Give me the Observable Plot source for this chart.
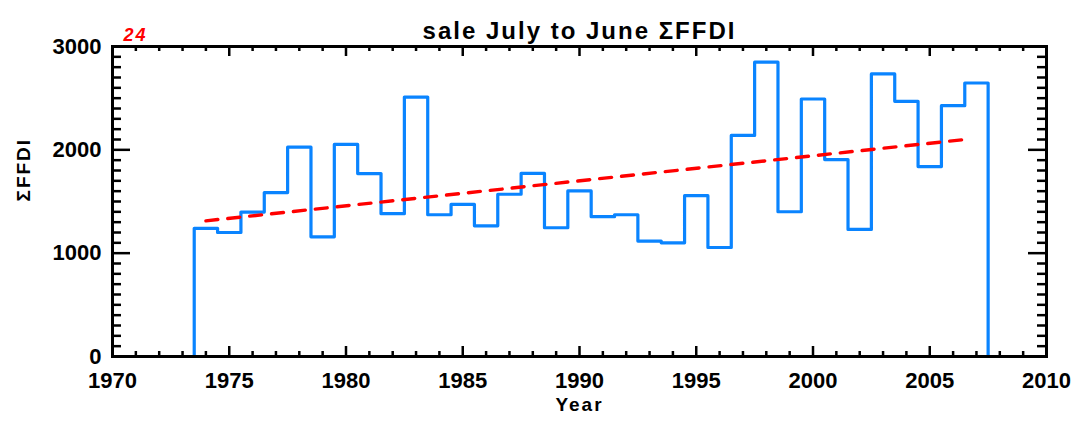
<!DOCTYPE html>
<html>
<head>
<meta charset="utf-8">
<script src="https://cdn.jsdelivr.net/npm/d3@7"></script>
<script src="https://cdn.jsdelivr.net/npm/@observablehq/plot@0.6"></script>
<style>
  html, body { margin: 0; padding: 0; background: #fff; }
  #chart { width: 1073px; height: 421px; }
  #chart svg g[aria-label="text"] text { letter-spacing: 2px; }
</style>
</head>
<body>
<div id="chart"></div>
<script>
// ---- data ----
const years = [1974, 1975, 1976, 1977, 1978, 1979, 1980, 1981, 1982, 1983,
               1984, 1985, 1986, 1987, 1988, 1989, 1990, 1991, 1992, 1993,
               1994, 1995, 1996, 1997, 1998, 1999, 2000, 2001, 2002, 2003,
               2004, 2005, 2006, 2007];
const sumFFDI = [1240, 1200, 1398, 1586, 2026, 1158, 2052, 1770, 1382, 2511,
                 1372, 1472, 1265, 1570, 1773, 1246, 1602, 1353, 1372, 1117,
                 1100, 1556, 1055, 2139, 2848, 1401, 2492, 1906, 1230, 2735,
                 2469, 1838, 2427, 2647];
const trendYears = [1974, 2006.5];
const trendValues = [1313, 2100];
const xTickLabels = [1970, 1975, 1980, 1985, 1990, 1995, 2000, 2005, 2010];
const xMinorTicks = d3.range(1970, 2011).filter(y => y % 5 !== 0);
const yTickLabels = [0, 1000, 2000, 3000];
const yMinorTicks = d3.range(0, 3001, 100).filter(v => v % 1000 !== 0);
const titleText = "sale July to June ΣFFDI";
const cornerText = "24";
const xLabel = "Year";
const yLabel = "ΣFFDI";

// histogram-style outline: bins centred on each year
const stepData = [{edge: years[0] - 0.5, v: 0}]
  .concat(years.map((y, i) => ({edge: y - 0.5, v: sumFFDI[i]})))
  .concat([{edge: years[years.length - 1] + 0.5, v: 0}]);
const trend = trendYears.map((y, i) => ({year: y, v: trendValues[i]}));

const W = 1073, H = 421, mL = 112, mR = 27, mT = 46, mB = 65;
const fw = W - mL - mR, fh = H - mT - mB;
const font = "'Liberation Sans', Arial, sans-serif";
const tickStyle = {stroke: "black", strokeWidth: 2.5};

const chart = Plot.plot({
  width: W, height: H,
  marginLeft: mL, marginRight: mR, marginTop: mT, marginBottom: mB,
  style: {fontFamily: font, fontSize: "22px", fontWeight: "bold", color: "black", background: "white"},
  x: {domain: [1970, 2010]},
  y: {domain: [0, 3000]},
  marks: [
    // step outline
    Plot.line(stepData, {x: "edge", y: "v", curve: "step-after", stroke: "#0a84ff", strokeWidth: 3.2}),
    // trend
    Plot.line(trend, {x: "year", y: "v", stroke: "#ff0000", strokeWidth: 3.4, strokeDasharray: "12,10"}),
    // inward ticks, all four sides
    Plot.tickX(xTickLabels, {x: d => d, insetTop: fh - 10, ...tickStyle}),
    Plot.tickX(xTickLabels, {x: d => d, insetBottom: fh - 10, ...tickStyle}),
    Plot.tickX(xMinorTicks, {x: d => d, insetTop: fh - 5, ...tickStyle}),
    Plot.tickX(xMinorTicks, {x: d => d, insetBottom: fh - 5, ...tickStyle}),
    Plot.tickY(yTickLabels, {y: d => d, insetRight: fw - 18, ...tickStyle}),
    Plot.tickY(yTickLabels, {y: d => d, insetLeft: fw - 18, ...tickStyle}),
    Plot.tickY(yMinorTicks, {y: d => d, insetRight: fw - 9, ...tickStyle}),
    Plot.tickY(yMinorTicks, {y: d => d, insetLeft: fw - 9, ...tickStyle}),
    Plot.frame({stroke: "black", strokeWidth: 3}),
    Plot.axisX(xTickLabels, {tickSize: 0, tickPadding: 16, tickFormat: d => String(d), label: null, fontSize: 22}),
    Plot.axisY(yTickLabels, {tickSize: 0, tickPadding: 11, tickFormat: d => String(d), label: null, fontSize: 22}),
    Plot.text([titleText], {text: d => d, frameAnchor: "top", dy: -25, fontSize: 24, fontWeight: "bold", fill: "black"}),
    Plot.text([cornerText], {text: d => d, frameAnchor: "top-left", dx: 11, dy: -18, textAnchor: "start", fontSize: 18, fontWeight: "bold", fontStyle: "italic", fill: "#ff0000"}),
    Plot.text([xLabel], {text: d => d, frameAnchor: "bottom", dy: 54, fontSize: 19, fontWeight: "bold", fill: "black"}),
    Plot.text([yLabel], {text: d => d, frameAnchor: "left", dx: -89, rotate: -90, fontSize: 19, fontWeight: "bold", fill: "black"})
  ]
});
document.getElementById("chart").appendChild(chart);
</script>
</body>
</html>
